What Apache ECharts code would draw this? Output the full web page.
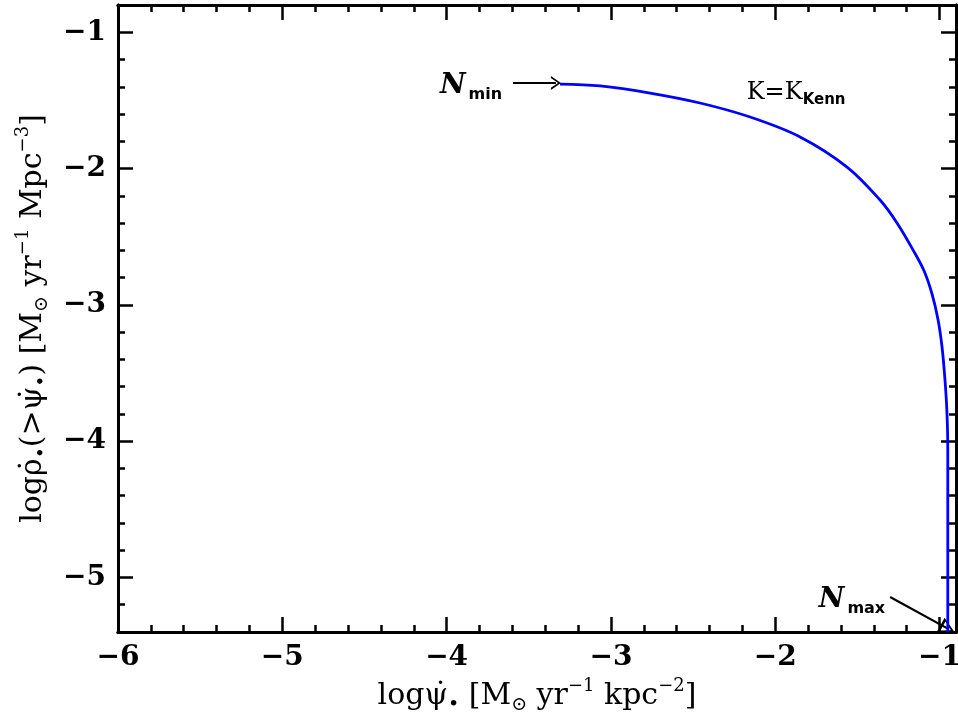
<!DOCTYPE html>
<html>
<head>
<meta charset="utf-8">
<script src="https://cdn.jsdelivr.net/npm/echarts@6/dist/echarts.min.js"></script>
<style>html,body{margin:0;padding:0;background:#fff}#c{width:958px;height:718px}</style>
</head>
<body>
<div id="c"></div>
<script>
// ---- data ----
var curveX = [-3.310, -3.066, -2.762, -2.458, -2.153, -1.849, -1.563, -1.362, -1.259, -1.161, -1.094, -1.046, -1.009, -0.985, -0.967, -0.955, -0.950, -0.950];
var curveY = [-1.380, -1.394, -1.446, -1.519, -1.622, -1.768, -1.989, -2.231, -2.399, -2.598, -2.752, -2.920, -3.111, -3.309, -3.551, -3.793, -4.065, -5.400];
var xTicks = [-6, -5, -4, -3, -2, -1];
var yTicks = [-5, -4, -3, -2, -1];
var xRange = [-6, -0.9];
var yRange = [-5.4, -0.8];
var nMinArrow = [[-3.596, -1.372], [-3.335, -1.372]];
var nMaxArrow = [[-1.301, -5.143], [-0.950, -5.375]];
var nMinPos = [-3.852, -1.394];
var kennPos = [-1.873, -1.446];
var nMaxPos = [-1.533, -5.165];

var BLACK = '#000';
var SERIF = 'DejaVu Serif';
var SANS = 'DejaVu Sans';
function fmt(v) { return String(Math.round(v)).replace('-', '\u2212'); }

var lineSt = { color: BLACK, width: 3 };
var tickSt = { color: BLACK, width: 2.5 };
var labelFont = { color: BLACK, fontFamily: SERIF, fontSize: 28, fontWeight: 'bold' };

var nameRichBase = {
  t: { fontFamily: SERIF, fontSize: 30, color: BLACK, lineHeight: 38 },
  s: { fontFamily: SERIF, fontSize: 19, color: BLACK, verticalAlign: 'bottom', lineHeight: 38 },
  p: { fontFamily: SERIF, fontSize: 18, color: BLACK, verticalAlign: 'top', lineHeight: 30 }
};

function minorAxis(pos, range) {
  return {
    type: 'value', position: pos, min: range[0], max: range[1], interval: 0.2,
    axisLine: { show: true, onZero: false, lineStyle: lineSt },
    axisTick: { show: true, inside: true, length: 7, lineStyle: tickSt },
    axisLabel: { show: false }, splitLine: { show: false }
  };
}
function majorAxis(pos, range, ticks, showLabel) {
  return {
    type: 'value', position: pos, min: range[0], max: range[1],
    axisLine: { show: true, onZero: false, lineStyle: lineSt },
    axisTick: { show: true, inside: true, length: 15, lineStyle: tickSt, customValues: ticks },
    axisLabel: Object.assign({ show: showLabel, customValues: ticks, formatter: fmt, margin: 12 }, labelFont),
    splitLine: { show: false }
  };
}

var xMain = majorAxis('bottom', xRange, xTicks, true);
xMain.name = '{t|log\u03c8\u0307}{s|\u2022}{t| [M}{s|\u2299}{t| yr}{p|\u22121}{t| kpc}{p|\u22122}{t|]}';
xMain.nameLocation = 'middle';
xMain.nameGap = 37;
xMain.nameTextStyle = { rich: nameRichBase };

var yMain = majorAxis('left', yRange, yTicks, true);
yMain.name = '{t|log\u03c1\u0307}{s|\u2022}{t|(>\u03c8\u0307}{s|\u2022}{t|) [M}{s|\u2299}{t| yr}{p|\u22121}{t| Mpc}{p|\u22123}{t|]}';
yMain.nameLocation = 'middle';
yMain.nameRotate = 90;
yMain.nameGap = 66;
yMain.nameTextStyle = { rich: nameRichBase };

var openChevron = 'path://M10,0 L20,14 L17,14 L10,4 L3,14 L0,14 Z';
var openTriangle = 'path://M10,0 L20,16 L0,16 Z M10,4.5 L3.5,13.5 L16.5,13.5 Z';

var chart = echarts.init(document.getElementById('c'), null, { renderer: 'canvas' });
chart.setOption({
  animation: false,
  backgroundColor: '#fff',
  grid: { left: 118, right: 2, top: 5, bottom: 86, containLabel: false, outerBoundsMode: 'none' },
  xAxis: [
    minorAxis('bottom', xRange), xMain,
    minorAxis('top', xRange), majorAxis('top', xRange, xTicks, false)
  ],
  yAxis: [
    minorAxis('left', yRange), yMain,
    minorAxis('right', yRange), majorAxis('right', yRange, yTicks, false)
  ],
  series: [{
    type: 'line',
    xAxisIndex: 0, yAxisIndex: 0,
    data: curveX.map(function (x, i) { return [x, curveY[i]]; }),
    showSymbol: false, symbol: 'none',
    smooth: 0.35,
    lineStyle: { color: '#0000ff', width: 2.8 },
    z: 5,
    markLine: {
      silent: true, animation: false,
      label: { show: false },
      lineStyle: { color: BLACK, width: 2.2, type: 'solid' },
      data: [
        [{ coord: nMinArrow[0], symbol: 'none' }, { coord: nMinArrow[1], symbol: openChevron, symbolSize: [14, 10] }],
        [{ coord: nMaxArrow[0], symbol: 'none' }, { coord: nMaxArrow[1], symbol: openTriangle, symbolSize: [16, 16] }]
      ]
    },
    markPoint: {
      silent: true, animation: false,
      symbol: 'rect', symbolSize: 1,
      itemStyle: { color: 'rgba(0,0,0,0)' },
      label: {
        show: true, position: 'inside',
        rich: {
          n: { fontFamily: SERIF, fontSize: 28, fontStyle: 'italic', fontWeight: 'bold', color: BLACK, lineHeight: 34 },
          ns: { fontFamily: SANS, fontSize: 16, fontWeight: 'bold', color: BLACK, verticalAlign: 'bottom', lineHeight: 34, padding: [0, 0, 0, 3] },
          k: { fontFamily: SERIF, fontSize: 24, color: BLACK, lineHeight: 30 },
          ks: { fontFamily: SANS, fontSize: 15, fontWeight: 'bold', color: BLACK, verticalAlign: 'bottom', lineHeight: 30 }
        }
      },
      data: [
        { coord: nMinPos, label: { formatter: '{n|N}{ns|min}' } },
        { coord: kennPos, label: { formatter: '{k|K=K}{ks|Kenn}' } },
        { coord: nMaxPos, label: { formatter: '{n|N}{ns|max}' } }
      ]
    }
  }]
});
</script>
</body>
</html>
